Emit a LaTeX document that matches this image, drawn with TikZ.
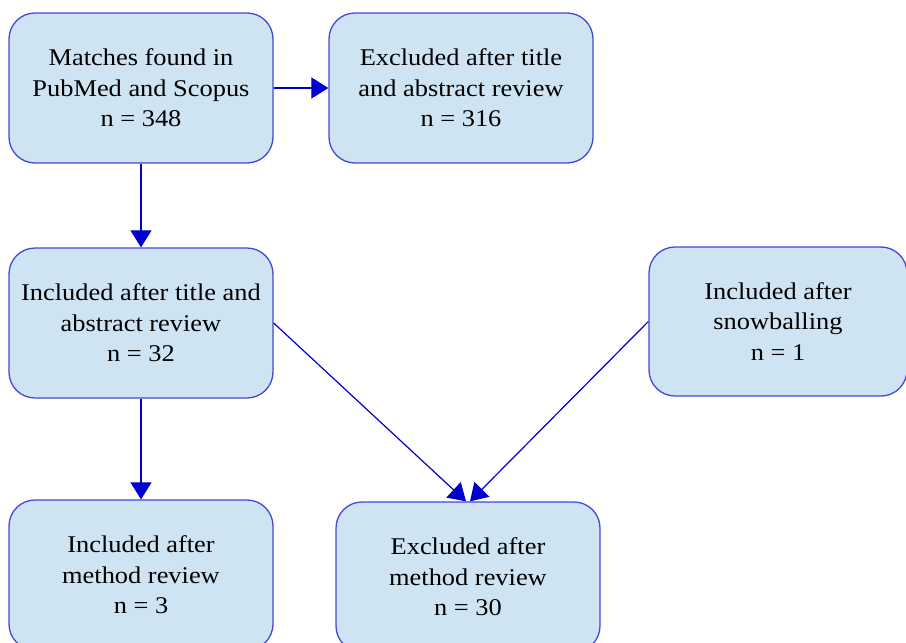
\documentclass[tikz,border=0pt]{standalone}
\usepackage{fontspec}
\setmainfont[FakeStretch=1.1]{Liberation Serif}
\usetikzlibrary{arrows.meta,calc}
\definecolor{boxfill}{RGB}{207,228,242}
\definecolor{boxline}{RGB}{70,70,215}
\definecolor{arrowblue}{RGB}{0,0,205}
\tikzset{
  flowbox/.style={draw=boxline, line width=1.3pt, fill=boxfill, rounded corners=26pt,
    minimum width=264pt, minimum height=150pt, align=center, inner sep=0pt,
    font=\fontsize{24}{30.5}\selectfont},
  flowarrow/.style={draw=arrowblue, line width=1.2pt,
    -{Triangle[length=17pt,width=21pt]}}
}
\begin{document}
\begin{tikzpicture}[x=1pt,y=-1pt]
\useasboundingbox (0,0) rectangle (906,643);
\clip (0,0) rectangle (906,643);
\node[flowbox] (b1) at (141,88) {Matches found in\\PubMed and Scopus\\n = 348};
\node[flowbox] (b2) at (461,88) {Excluded after title\\and abstract review\\n = 316};
\node[flowbox] (b3) at (141,323) {Included after title and\\abstract review\\n = 32};
\node[flowbox, minimum width=258pt, minimum height=149pt] (b4) at (778,321.5) {Included after\\snowballing\\n = 1};
\node[flowbox] (b5) at (141,575) {Included after\\method review\\n = 3};
\node[flowbox] (b6) at (468,577) {Excluded after\\method review\\n = 30};
\coordinate (b6l) at ($(b6.north)+(-2,0)$);
\coordinate (b6r) at ($(b6.north)+(2,0)$);
\draw[flowarrow] (b1.east) -- (b2.west);
\draw[flowarrow] (b1.south) -- (b3.north);
\draw[flowarrow] (b3.south) -- (b5.north);
\draw[flowarrow] (b3.east) -- (b6l);
\draw[flowarrow] (b4.west) -- (b6r);
\end{tikzpicture}
\end{document}
